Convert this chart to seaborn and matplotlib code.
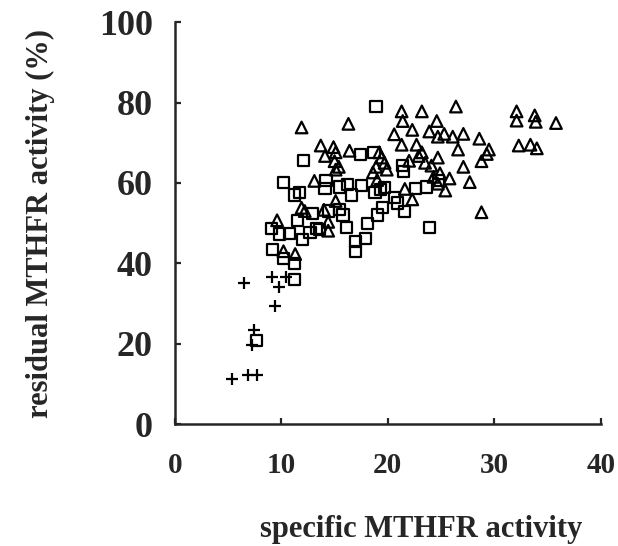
import numpy as np
import pandas as pd
import matplotlib
matplotlib.use("Agg")
import matplotlib.pyplot as plt
import seaborn as sns

# ---------------------------------------------------
# Data
# ---------------------------------------------------
plus_x = [5.4, 6.9, 7.7, 6.5, 7.4, 7.2, 9.1, 9.8, 9.4, 10.4]
plus_y = [11.2, 12.3, 12.3, 35.2, 23.5, 19.6, 36.5, 34.0, 29.3, 36.5]

square_x = [7.7, 9.1, 9.2, 10.2, 9.8, 10.8, 10.2, 11.2, 11.2, 11.2,
            11.7, 11.5, 12.0, 12.1, 12.9, 13.3, 12.7, 14.1, 14.2, 15.5,
            15.8, 16.1, 16.2, 15.5, 17.0, 17.0, 17.4, 17.5, 17.9, 18.1,
            18.9, 18.7, 18.8, 19.0, 19.5, 19.7, 19.3, 20.6, 20.9, 21.4,
            21.5, 21.6, 22.6, 23.9, 23.6, 14.4, 13.6, 16.6, 24.8]
square_y = [20.7, 48.7, 43.4, 60.2, 47.3, 47.5, 41.2, 40.0, 35.9, 57.0,
            57.6, 50.6, 46.0, 65.6, 52.3, 48.6, 47.7, 58.7, 60.5, 53.3,
            52.0, 49.0, 59.6, 59.0, 45.4, 43.0, 67.0, 59.4, 46.2, 49.9,
            79.1, 67.6, 57.6, 52.0, 53.8, 58.9, 58.3, 56.4, 55.0, 64.3,
            62.8, 52.9, 58.7, 49.0, 59.0, 53.0, 48.5, 57.0, 60.5]

tri_x = [11.9, 9.6, 10.2, 11.3, 11.9, 13.1, 13.7, 14.1, 14.9, 15.1,
         15.0, 15.1, 14.0, 14.4, 14.4, 16.3, 16.4, 15.1, 18.6, 19.2,
         19.4, 19.7, 19.9, 19.0, 20.6, 21.3, 21.4, 21.3, 22.3, 21.6,
         22.3, 22.7, 23.2, 22.9, 23.2, 23.9, 24.1, 24.6, 24.7, 24.7,
         24.9, 24.7, 25.3, 25.4, 25.8, 26.1, 26.4, 26.6, 27.1, 27.1,
         27.7, 28.6, 28.8, 28.8, 29.3, 29.5, 32.1, 32.1, 32.3, 33.4,
         33.8, 33.9, 34.0, 35.8, 23.5, 24.3, 22.0, 18.9, 12.2, 15.4]
tri_y = [73.8, 50.7, 43.0, 42.3, 53.8, 60.5, 69.3, 66.7, 68.9, 67.6,
         65.4, 63.3, 53.3, 50.3, 48.1, 74.7, 68.0, 55.5, 62.6, 67.6,
         66.3, 65.0, 63.3, 60.7, 72.1, 77.8, 75.4, 69.5, 73.2, 58.5,
         55.9, 69.5, 77.8, 66.7, 67.6, 72.8, 64.3, 75.4, 71.5, 66.3,
         62.4, 59.8, 72.2, 58.1, 61.1, 71.5, 79.0, 68.3, 72.2, 64.0,
         60.2, 71.0, 52.7, 65.4, 67.2, 68.3, 77.8, 75.5, 69.3, 69.5,
         76.8, 75.2, 68.6, 74.9, 65.0, 61.5, 65.5, 64.0, 53.0, 64.0]

df = pd.DataFrame({
    "x": plus_x + square_x + tri_x,
    "y": plus_y + square_y + tri_y,
    "group": ["plus"] * len(plus_x) + ["square"] * len(square_x) + ["tri"] * len(tri_x),
})

# ---------------------------------------------------
# Style
# ---------------------------------------------------
sns.set_style("ticks")
plt.rcParams["font.family"] = ["Liberation Serif", "DejaVu Serif"]
plt.rcParams["font.weight"] = "bold"

fig = plt.figure(figsize=(6.18, 5.46), dpi=100)
ax = fig.add_axes([0.283, 0.2234, 0.689, 0.736])

# ---------------------------------------------------
# Scatter, one call per marker group
# ---------------------------------------------------
sns.scatterplot(data=df[df.group == "plus"], x="x", y="y", marker="+",
                s=85, color="black", linewidth=1.6, ax=ax)
sns.scatterplot(data=df[df.group == "square"], x="x", y="y", marker="s",
                s=65, facecolor="none", edgecolor="black", linewidth=1.6, ax=ax)
sns.scatterplot(data=df[df.group == "tri"], x="x", y="y", marker="^",
                s=70, facecolor="none", edgecolor="black", linewidth=1.6, ax=ax)

ax.set_xlim(0, 40)
ax.set_ylim(0, 100)
ax.set_xticks([0, 10, 20, 30, 40])
ax.set_yticks([0, 20, 40, 60, 80, 100])

sns.despine(ax=ax)
for side in ["left", "bottom"]:
    ax.spines[side].set_linewidth(1.8)

ax.tick_params(axis="both", direction="in", length=4, width=1.6)
ax.tick_params(axis="y", labelsize=26, pad=16)
ax.tick_params(axis="x", labelsize=21, pad=20)

ax.set_xlabel("specific MTHFR activity", fontsize=22, fontweight="bold")
ax.set_ylabel("residual MTHFR activity (%)", fontsize=22, fontweight="bold")
ax.xaxis.set_label_coords(0.578, -0.226)
ax.yaxis.set_label_coords(-0.282, 0.5)

plt.savefig("out.png", dpi=100)
